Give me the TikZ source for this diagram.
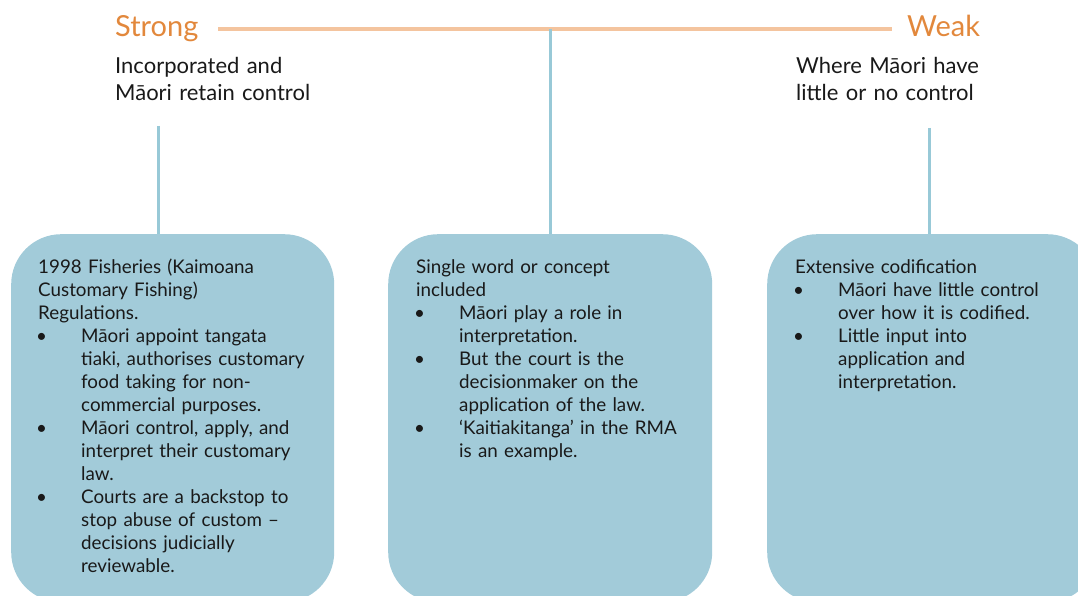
\documentclass[tikz,border=0pt]{standalone}
\usepackage{fontspec}
\setmainfont{Lato}
\definecolor{boxblue}{RGB}{162,203,217}
\definecolor{lineblue}{RGB}{152,201,215}
\definecolor{orangetext}{RGB}{226,136,60}
\definecolor{orangeline}{RGB}{244,196,158}
\definecolor{ink}{RGB}{25,25,25}
\newcommand{\bitem}{\hspace*{-2pt}\makebox[45pt][l]{\textbullet}}
\newcommand{\bcont}{\hspace*{43pt}}
\begin{document}
\begin{tikzpicture}[x=1pt,y=-1pt,
  panel/.style={fill=boxblue, draw=none, rounded corners=50pt, anchor=north west, inner sep=0pt},
  paneltext/.style={anchor=base west, inner sep=0pt, text width=300pt, align=left, text=ink,
    font=\fontsize{18.8}{23}\selectfont},
  headtext/.style={anchor=base west, inner sep=0pt, text width=260pt, align=left, text=ink,
    font=\fontsize{22}{27}\selectfont},
  endlabel/.style={anchor=base west, inner sep=0pt, text=orangetext, font=\fontsize{29}{32}\selectfont},
  scale line/.style={draw=orangeline, line width=4pt},
  link/.style={draw=lineblue, line width=3pt}]
\useasboundingbox (0,0) rectangle (1078,596);

% panels
\node[panel, minimum width=323pt, minimum height=368pt] (lbox) at (11,234) {};
\node[panel, minimum width=324pt, minimum height=368pt] (cbox) at (388,234) {};
\node[panel, minimum width=330pt, minimum height=368pt] (rbox) at (767,234) {};

% scale
\node[endlabel] (strong) at (115,37) {Strong};
\node[endlabel] (weak) at (907,37) {Weak};
\coordinate (sstart) at (218,29);
\coordinate (send) at (892,29);
\draw[scale line] (sstart) -- (send);

\node[headtext] (lhead) at (115,74) {Incorporated and\\Māori retain control};
\node[headtext] (rhead) at (796,74) {Where Māori have\\little or no control};

% connectors
\coordinate (ctop) at (550,29);
\coordinate (ltop) at (158,126);
\coordinate (rtop) at (929,128);
\draw[link] (ctop) -- (ctop |- cbox.north);
\draw[link] (ltop) -- (ltop |- lbox.north);
\draw[link] (rtop) -- (rtop |- rbox.north);

% texts
\node[paneltext] (ltext) at (38,273) {1998 Fisheries (Kaimoana\\Customary Fishing)\\Regulations.\\
\bitem Māori appoint tangata\\\bcont tiaki, authorises customary\\\bcont food taking for non-\\\bcont commercial purposes.\\
\bitem Māori control, apply, and\\\bcont interpret their customary\\\bcont law.\\
\bitem Courts are a backstop to\\\bcont stop abuse of custom –\\\bcont decisions judicially\\\bcont reviewable.};

\node[paneltext] (ctext) at (416,273) {Single word or concept\\included\\
\bitem Māori play a role in\\\bcont interpretation.\\
\bitem But the court is the\\\bcont decisionmaker on the\\\bcont application of the law.\\
\bitem ‘Kaitiakitanga’ in the RMA\\\bcont is an example.};

\node[paneltext] (rtext) at (795,273) {Extensive codification\\
\bitem Māori have little control\\\bcont over how it is codified.\\
\bitem Little input into\\\bcont application and\\\bcont interpretation.};
\end{tikzpicture}
\end{document}
